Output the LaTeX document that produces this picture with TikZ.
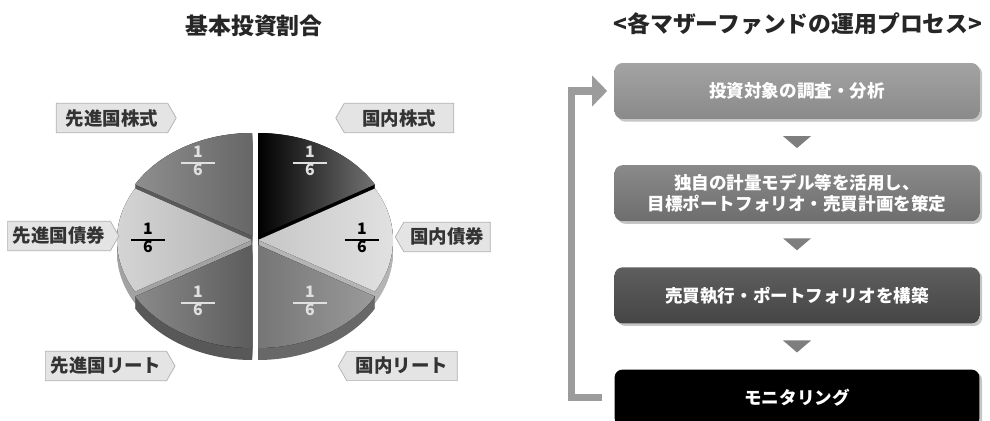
\documentclass[tikz,border=0pt]{standalone}
\usepackage{fontspec}
\newfontfamily\jp{Noto Sans CJK JP}
\usetikzlibrary{positioning,shapes.symbols,shadows,arrows.meta,calc}

\definecolor{tagfill}{HTML}{E4E4E4}
\definecolor{tagline}{HTML}{B0B0B0}
\definecolor{tagtext}{HTML}{333333}
\definecolor{loopgray}{HTML}{9C9C9C}
\definecolor{trigray}{HTML}{7E7E7E}
% slice colours: left, right, side
\definecolor{dstL}{HTML}{8E8E8E}\definecolor{dstR}{HTML}{676767}\definecolor{dstS}{HTML}{5A5A5A}
\definecolor{jstL}{HTML}{000000}\definecolor{jstR}{HTML}{727272}\definecolor{jstS}{HTML}{000000}
\definecolor{dbdL}{HTML}{D6D6D6}\definecolor{dbdR}{HTML}{B2B2B2}\definecolor{dbdS}{HTML}{A2A2A2}
\definecolor{jbdL}{HTML}{C6C6C6}\definecolor{jbdR}{HTML}{E2E2E2}\definecolor{jbdS}{HTML}{B4B4B4}
\definecolor{dreL}{HTML}{8A8A8A}\definecolor{dreR}{HTML}{5C5C5C}\definecolor{dreS}{HTML}{585858}
\definecolor{jreL}{HTML}{767676}\definecolor{jreR}{HTML}{9A9A9A}\definecolor{jreS}{HTML}{686868}

\setlength{\arrayrulewidth}{0.9pt}
\newcommand{\sixth}{{\fontsize{9}{8.5}\selectfont\begin{tabular}{@{\hspace{7pt}}c@{\hspace{7pt}}}1\\\hline 6\end{tabular}}}

\begin{document}
\begin{tikzpicture}[x=0.02cm, y=0.02cm, font=\jp\bfseries,
    tag/.style={signal, draw=tagline, fill=tagfill, text=tagtext,
      font=\jp\bfseries\fontsize{10.5}{12}\selectfont,
      minimum height=0.56cm, inner xsep=3pt, signal pointer angle=120},
    flowbox/.style={rounded corners=0.16cm, minimum width=7.3cm, minimum height=1.12cm,
      text=white, align=center, font=\jp\bfseries\fontsize{10}{12.5}\selectfont,
      drop shadow={shadow xshift=1.5pt, shadow yshift=-1.5pt, opacity=0.45}},
    title/.style={font=\jp\bfseries\fontsize{13}{15}\selectfont, text=black!85}]

  \useasboundingbox (0,0) rectangle (990,420);
  \clip (0,0) rectangle (990,420);

  % titles
  \node[title] (t1) at (254,394) {基本投資割合};
  \node[title] (t2) at (798,396) {<各マザーファンドの運用プロセス>};

  % pie, back to front
  \foreach \cx/\cy/\sa/\ea/\lc/\rc/\sc in {252/184/90/150/dstL/dstR/dstS,
      258/184/30/90/jstL/jstR/jstS, 252/180/150/210/dbdL/dbdR/dbdS,
      258/180/-30/30/jbdL/jbdR/jbdS, 252/175/210/270/dreL/dreR/dreS,
      258/175/270/330/jreL/jreR/jreS}
  {
    \foreach \d in {1,...,12}
      \fill[\sc] (\cx,\cy-\d) -- ++(\sa:135 and 103)
        arc[start angle=\sa, end angle=\ea, x radius=135, y radius=103] -- cycle;
    \fill[left color=\lc, right color=\rc] (\cx,\cy) -- ++(\sa:135 and 103)
      arc[start angle=\sa, end angle=\ea, x radius=135, y radius=103] -- cycle;
  }

  \begin{scope}[every node/.style={inner sep=0pt, font=\jp\bfseries}]
    \node[text=black!12] (fr1) at (310,257) {\sixth};
    \node[text=black!12] (fr2) at (198,257) {\sixth};
    \node[text=black]    (fr3) at (148,180) {\sixth};
    \node[text=black]    (fr4) at (362,180) {\sixth};
    \node[text=black!12] (fr5) at (198,117) {\sixth};
    \node[text=black!12] (fr6) at (310,117) {\sixth};
  \end{scope}

  % labels
  \node[tag, signal to=east, minimum width=2.4cm]  (l1) at (112,302) {先進国株式};
  \node[tag, signal to=west, minimum width=2.36cm] (l2) at (399,302) {国内株式};
  \node[tag, signal to=east, minimum width=2.04cm] (l3) at (59,184)  {先進国債券};
  \node[tag, signal to=west, minimum width=1.9cm]  (l4) at (447,183) {国内債券};
  \node[tag, signal to=east, minimum width=2.42cm] (l5) at (106,54)  {先進国リート};
  \node[tag, signal to=west, minimum width=2.38cm] (l6) at (402,54)  {国内リート};

  % process
  \node[flowbox, top color=black!36, bottom color=black!46] (b1) at (797,329) {投資対象の調査・分析};
  \node[flowbox, top color=black!46, bottom color=black!57, below=0.91cm of b1] (b2)
    {独自の計量モデル等を活用し、\\目標ポートフォリオ・売買計画を策定};
  \node[flowbox, top color=black!63, bottom color=black!73, below=0.91cm of b2] (b3) {売買執行・ポートフォリオを構築};
  \node[flowbox, fill=black, below=0.91cm of b3] (b4) {モニタリング};

  \foreach \a/\b in {b1/b2,b2/b3,b3/b4}
  {
    \coordinate (m) at ($(\a.south)!0.5!(\b.north)$);
    \fill[trigray] ([shift={(-14,6)}]m) -- ([shift={(14,6)}]m) -- ([shift={(0,-6)}]m) -- cycle;
  }

  \draw[loopgray, line width=4pt, -{Triangle[length=0.3cm, width=0.6cm]}]
    ([shift={(-12,0)}]b4.west) -- ++(-31,0) |- ([shift={(-7,0)}]b1.west);

\end{tikzpicture}
\end{document}
